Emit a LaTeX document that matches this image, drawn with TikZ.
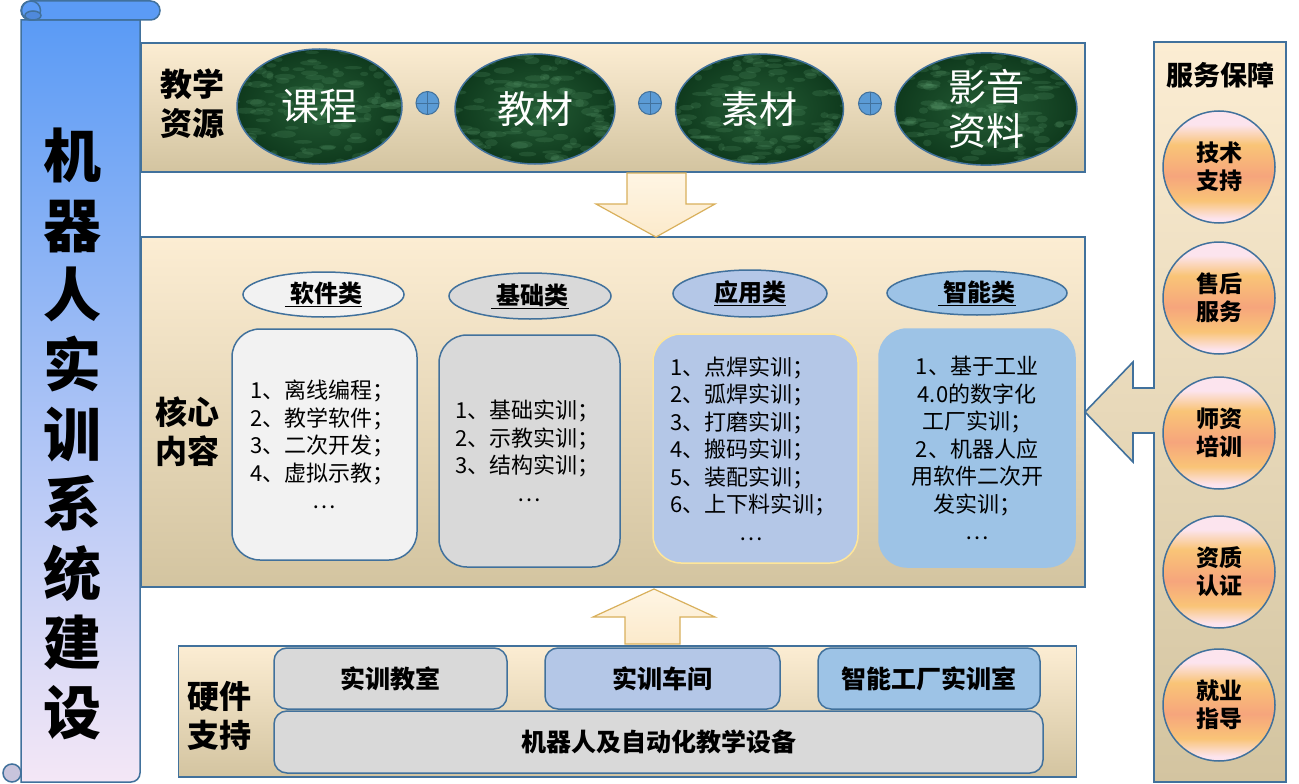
\documentclass[tikz,border=0pt]{standalone}
\usepackage{fontspec}
\setmainfont{Noto Sans CJK SC}
\usetikzlibrary{positioning, shapes.geometric, calc}

\definecolor{edgeblue}{HTML}{41719C}
\definecolor{bandlight}{HTML}{FCEDD3}
\definecolor{bandmid}{HTML}{F3E8D0}
\definecolor{banddark}{HTML}{D3C4A0}
\definecolor{greyA}{HTML}{F2F2F2}
\definecolor{greyB}{HTML}{D9D9D9}
\definecolor{blueA}{HTML}{B4C7E7}
\definecolor{blueB}{HTML}{9DC3E6}
\definecolor{goldline}{HTML}{FFE699}
\definecolor{plusblue}{HTML}{5B9BD5}
\definecolor{scrolltop}{HTML}{5B9BF5}
\definecolor{scrollmid}{HTML}{8EBCF6}
\definecolor{scrollbot}{HTML}{F4E7F6}
\definecolor{scrolldeep}{HTML}{4F89DB}
\definecolor{scrollcurl}{HTML}{C8C4DC}
\definecolor{arrowtop}{HTML}{FEF5E4}
\definecolor{arrowfill}{HTML}{FCEACB}
\definecolor{arrowedge}{HTML}{D9B05C}
\definecolor{servpink}{HTML}{FCE4EE}
\definecolor{servorange}{HTML}{F9C477}
\definecolor{servsalmon}{HTML}{F6A57C}
\definecolor{marbledark}{HTML}{0F3A1D}
\definecolor{marblelight}{HTML}{245C35}
\definecolor{marblespot}{HTML}{5E9E70}

\pgfdeclareverticalshading{servshade}{100bp}{color(0bp)=(servpink); color(27bp)=(servpink);
  color(35bp)=(servorange); color(46bp)=(servsalmon); color(60bp)=(servorange);
  color(69bp)=(servpink); color(100bp)=(servpink)}

\begin{document}
\begin{tikzpicture}[x=1pt, y=-1pt,
  band/.style={draw=edgeblue, line width=1.6pt, top color=bandlight, middle color=bandmid,
    bottom color=banddark, inner sep=0pt},
  bandlbl/.style={font=\bfseries\fontsize{32}{39}\selectfont, align=center, inner sep=0pt},
  marble/.style={ellipse, draw=edgeblue, line width=1.5pt, inner color=marblelight,
    outer color=marbledark, text=white, align=center, inner sep=0pt,
    font=\fontsize{38}{44}\selectfont,
    path picture={\foreach \k in {1,...,150}
      \fill[marblespot, opacity=0.2]
        ($(path picture bounding box.center)+(rand*92,rand*60)$)
        ellipse ({3+8*rnd} and {1.5+2.5*rnd});}},
  plus/.style={circle, draw=edgeblue, fill=plusblue, line width=1pt, minimum size=23pt,
    inner sep=0pt, path picture={\draw[edgeblue, line width=1pt]
      (path picture bounding box.north) -- (path picture bounding box.south)
      (path picture bounding box.west) -- (path picture bounding box.east);}},
  cat/.style={ellipse, draw=edgeblue, line width=1.5pt, inner sep=0pt,
    font=\bfseries\fontsize{24}{28}\selectfont},
  listbox/.style={draw=edgeblue, line width=1.5pt, rounded corners=28pt, inner xsep=0pt,
    align=left, font=\fontsize{22}{27.5}\selectfont},
  servbox/.style={circle, draw=edgeblue, line width=1.5pt, shading=servshade,
    minimum size=112pt, inner sep=0pt, align=center,
    font=\bfseries\fontsize{23}{28}\selectfont},
  hwbox/.style={draw=edgeblue, line width=1.5pt, rounded corners=13pt, inner sep=0pt,
    font=\bfseries\fontsize{25}{30}\selectfont},
  blockarrow/.style={draw=arrowedge, line width=1.2pt, top color=arrowtop, bottom color=arrowfill},
  scrollline/.style={draw=edgeblue, line width=1.5pt}
]
\pgfmathsetseed{17}
\path[use as bounding box, fill=white] (0,0) rectangle (1299,784);

% the three bands
\node[band, minimum width=944pt, minimum height=129pt] (res) at (613,107.5) {};
\node[band, minimum width=944pt, minimum height=350pt] (core) at (613,412) {};
\node[band, minimum width=898pt, minimum height=131pt] (hw) at (627.5,711.5) {};

% service panel with its arrow
\draw[band] (1154,42) -- (1286,42) -- (1286,782) -- (1154,782) -- (1154,433) -- (1133,433)
  -- (1133,462) -- (1085,412) -- (1133,362) -- (1133,388) -- (1154,388) -- cycle;

% block arrows between the bands
\draw[blockarrow] (627,173) -- (686,173) -- (686,204) -- (715,204) -- (656,237) -- (596,204)
  -- (627,204) -- cycle;
\draw[blockarrow] (625,644) -- (680,644) -- (680,617) -- (715,617) -- (654,589) -- (593,617)
  -- (625,617) -- cycle;

% teaching resources
\node[bandlbl] (reslbl) at (192,104) {教学\\资源};
\node[marble, minimum width=165pt, minimum height=115pt] (course) at (319.5,106.5) {课程};
\node[marble, minimum width=160pt, minimum height=110pt] (book) at (535,109) {教材};
\node[marble, minimum width=168pt, minimum height=110pt] (material) at (759.5,109) {素材};
\node[marble, minimum width=182pt, minimum height=110pt] (media) at (986,109) {影音\\资料};
\node[plus] (p1) at (427.5,103) {};
\node[plus] (p2) at (650,103) {};
\node[plus] (p3) at (870,103.5) {};

% core content
\node[bandlbl] (corelbl) at (187,432) {核心\\内容};
\node[cat, fill=greyA, minimum width=161pt, minimum height=45pt] (softcat) at (323.5,294.5) {\underline{\ 软件类}};
\node[cat, fill=greyB, minimum width=162pt, minimum height=46pt] (basecat) at (530,296) {\underline{\ 基础类}};
\node[cat, fill=blueA, minimum width=154pt, minimum height=47pt] (appcat) at (750,293.5) {\underline{应用类}};
\node[cat, fill=blueB, minimum width=180pt, minimum height=44pt] (smartcat) at (977,293) {\underline{\ 智能类}};

\node[listbox, fill=greyA, minimum width=185pt, minimum height=231pt, text width=149pt]
  (softlist) at (324.5,444.5) {1、离线编程；\\2、教学软件；\\3、二次开发；\\4、虚拟示教；\\\makebox[\linewidth]{…}};
\node[listbox, fill=greyB, minimum width=181pt, minimum height=232pt, text width=149pt]
  (baselist) at (529.5,451) {1、基础实训；\\2、示教实训；\\3、结构实训；\\\makebox[\linewidth]{…}};
\node[listbox, draw=goldline, fill=blueA, minimum width=205pt, minimum height=229pt, text width=171pt]
  (applist) at (755.5,448.5) {1、点焊实训；\\2、弧焊实训；\\3、打磨实训；\\4、搬码实训；\\5、装配实训；\\6、上下料实训；\\\makebox[\linewidth]{\hspace{-8pt}…}};
\node[listbox, draw=blueB, fill=blueB, align=center, minimum width=196pt, minimum height=238pt, text width=160pt]
  (smartlist) at (977,448) {1、基于工业\\4.0的数字化\\工厂实训；\\2、机器人应\\用软件二次开\\发实训；\\…};

% service guarantees
\node[bandlbl, font=\bfseries\fontsize{27}{32}\selectfont] (servlbl) at (1220,75) {服务保障};
\node[servbox] (tech) at (1219,167) {技术\\支持};
\node[servbox] (after) at (1219,298) {售后\\服务};
\node[servbox] (teach) at (1219,433) {师资\\培训};
\node[servbox] (cert) at (1219,572) {资质\\认证};
\node[servbox] (job) at (1219,705) {就业\\指导};

% hardware support
\node[bandlbl] (hwlbl) at (219,716) {硬件\\支持};
\node[hwbox, fill=greyB, minimum width=233pt, minimum height=61pt] (room) at (390.5,678.5) {实训教室};
\node[hwbox, fill=blueA, minimum width=235pt, minimum height=61pt] (shop) at (662.5,678.5) {实训车间};
\node[hwbox, fill=blueB, minimum width=222pt, minimum height=61pt] (factory) at (929,678.5) {智能工厂实训室};
\node[hwbox, fill=greyB, minimum width=769pt, minimum height=62pt] (equip) at (658.5,742) {机器人及自动化教学设备};

% the title scroll
\draw[scrollline, top color=scrolltop, middle color=scrollmid, bottom color=scrollbot]
  (21,20) -- (21,782) -- (131,782) .. controls (136,782) and (140,778) .. (140,773) -- (140,20) -- cycle;
\draw[scrollline, fill=scrolltop, rounded corners=9.5pt] (21,1) rectangle (160,20);
\draw[scrollline, fill=scrolltop] (31,10.5) circle (9.5);
\draw[scrollline, fill=scrolldeep] (33,15.5) ellipse (8 and 4.5);
\draw[scrollline, fill=scrollcurl] (12,773) circle (9);
\node[font=\bfseries\fontsize{58}{69.6}\selectfont, align=center, inner sep=0pt] (title)
  at (72,434) {机\\器\\人\\实\\训\\系\\统\\建\\设};

\end{tikzpicture}
\end{document}
